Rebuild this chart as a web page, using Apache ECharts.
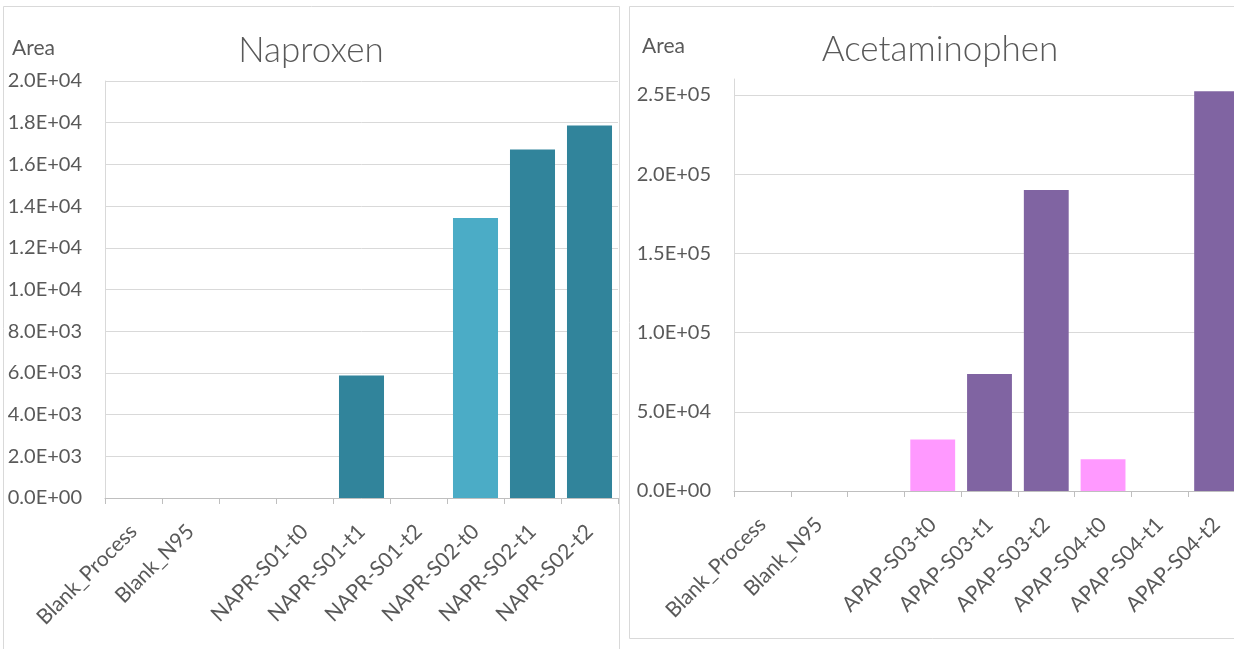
<!DOCTYPE html>
<html>
<head>
<meta charset="utf-8">
<title>Naproxen / Acetaminophen peak areas</title>
<script src="https://cdn.jsdelivr.net/npm/echarts@6/dist/echarts.min.js"></script>
<style>
  html, body { margin: 0; padding: 0; background: #ffffff; }
  #chart { width: 1234px; height: 649px; }
</style>
</head>
<body>
<div id="chart"></div>
<script>
// Naproxen samples (peak area)
const napCategories = ['Blank_Process', 'Blank_N95', '', 'NAPR-S01-t0', 'NAPR-S01-t1', 'NAPR-S01-t2', 'NAPR-S02-t0', 'NAPR-S02-t1', 'NAPR-S02-t2'];
const napAreas = [0, 0, null, 0, 5870, 0, 13430, 16720, 17870];

// Acetaminophen samples (peak area)
const apapCategories = ['Blank_Process', 'Blank_N95', '', 'APAP-S03-t0', 'APAP-S03-t1', 'APAP-S03-t2', 'APAP-S04-t0', 'APAP-S04-t1', 'APAP-S04-t2'];
const apapAreas = [0, 0, null, 32500, 73900, 189900, 20100, 0, 252300];

const textColor = '#595959';
const gridColor = '#d9d9d9';
const fontFamily = 'Lato, "Open Sans", sans-serif';

// 2.0E+04 style labels
function sci(v) {
  if (v === 0) return '0.0E+00';
  const e = Math.floor(Math.log10(Math.abs(v)));
  const m = v / Math.pow(10, e);
  return m.toFixed(1) + 'E' + (e < 0 ? '-' : '+') + String(Math.abs(e)).padStart(2, '0');
}

// t0 samples get the light tint, later time points the dark one
function barItems(categories, values, light, dark) {
  return values.map((v, i) => ({
    value: v,
    itemStyle: { color: /-t0$/.test(categories[i]) ? light : dark }
  }));
}

function xAxis(gridIndex, categories) {
  return {
    type: 'category',
    gridIndex: gridIndex,
    data: categories,
    boundaryGap: true,
    axisLine: { show: true, lineStyle: { color: '#bfbfbf', width: 1 } },
    axisTick: { show: true, length: 6, lineStyle: { color: '#bfbfbf' } },
    axisLabel: {
      interval: 0,
      rotate: 45,
      margin: 30,
      color: textColor,
      fontFamily: fontFamily,
      fontSize: 21
    },
    splitLine: { show: false }
  };
}

function yAxis(gridIndex, max, interval) {
  return {
    type: 'value',
    gridIndex: gridIndex,
    min: 0,
    max: max,
    interval: interval,
    axisLine: { show: true, lineStyle: { color: gridColor, width: 1 } },
    axisTick: { show: false },
    axisLabel: {
      formatter: sci,
      color: textColor,
      fontFamily: fontFamily,
      fontSize: 20,
      margin: 23,
      showMaxLabel: max % interval === 0
    },
    splitLine: {
      show: true,
      showMaxLine: max % interval === 0,
      lineStyle: { color: gridColor, width: 1 }
    }
  };
}

const chart = echarts.init(document.getElementById('chart'), null, { renderer: 'canvas' });

chart.setOption({
  animation: false,
  backgroundColor: '#ffffff',
  graphic: [
    // panel frames
    { type: 'rect', z: -10, shape: { x: 3.5, y: 6.5, width: 616, height: 660 },
      style: { fill: '#ffffff', stroke: '#d9d9d9', lineWidth: 1 } },
    { type: 'rect', z: -10, shape: { x: 629.5, y: 6.5, width: 700, height: 632 },
      style: { fill: '#ffffff', stroke: '#d9d9d9', lineWidth: 1 } },
    // chart titles
    { type: 'text', x: 311, y: 51, style: { text: 'Naproxen', fill: textColor, font: '300 35px ' + fontFamily, textAlign: 'center', textVerticalAlign: 'middle' } },
    { type: 'text', x: 940, y: 50, style: { text: 'Acetaminophen', fill: textColor, font: '300 35px ' + fontFamily, textAlign: 'center', textVerticalAlign: 'middle' } },
    // value axis titles
    { type: 'text', x: 12, y: 48, style: { text: 'Area', fill: textColor, font: '21px ' + fontFamily, textAlign: 'left', textVerticalAlign: 'middle' } },
    { type: 'text', x: 642, y: 46, style: { text: 'Area', fill: textColor, font: '21px ' + fontFamily, textAlign: 'left', textVerticalAlign: 'middle' } }
  ],
  grid: [
    { left: 105, top: 81, width: 513, height: 417, outerBoundsMode: 'none', containLabel: false },
    { left: 734, top: 79, width: 511, height: 412, outerBoundsMode: 'none', containLabel: false }
  ],
  xAxis: [xAxis(0, napCategories), xAxis(1, apapCategories)],
  yAxis: [yAxis(0, 20000, 2000), yAxis(1, 260000, 50000)],
  series: [
    {
      name: 'Naproxen',
      type: 'bar',
      xAxisIndex: 0,
      yAxisIndex: 0,
      barCategoryGap: '21%',
      data: barItems(napCategories, napAreas, '#4bacc6', '#31849b')
    },
    {
      name: 'Acetaminophen',
      type: 'bar',
      xAxisIndex: 1,
      yAxisIndex: 1,
      barCategoryGap: '21%',
      data: barItems(apapCategories, apapAreas, '#ff99ff', '#8064a2')
    }
  ]
});
</script>
</body>
</html>
